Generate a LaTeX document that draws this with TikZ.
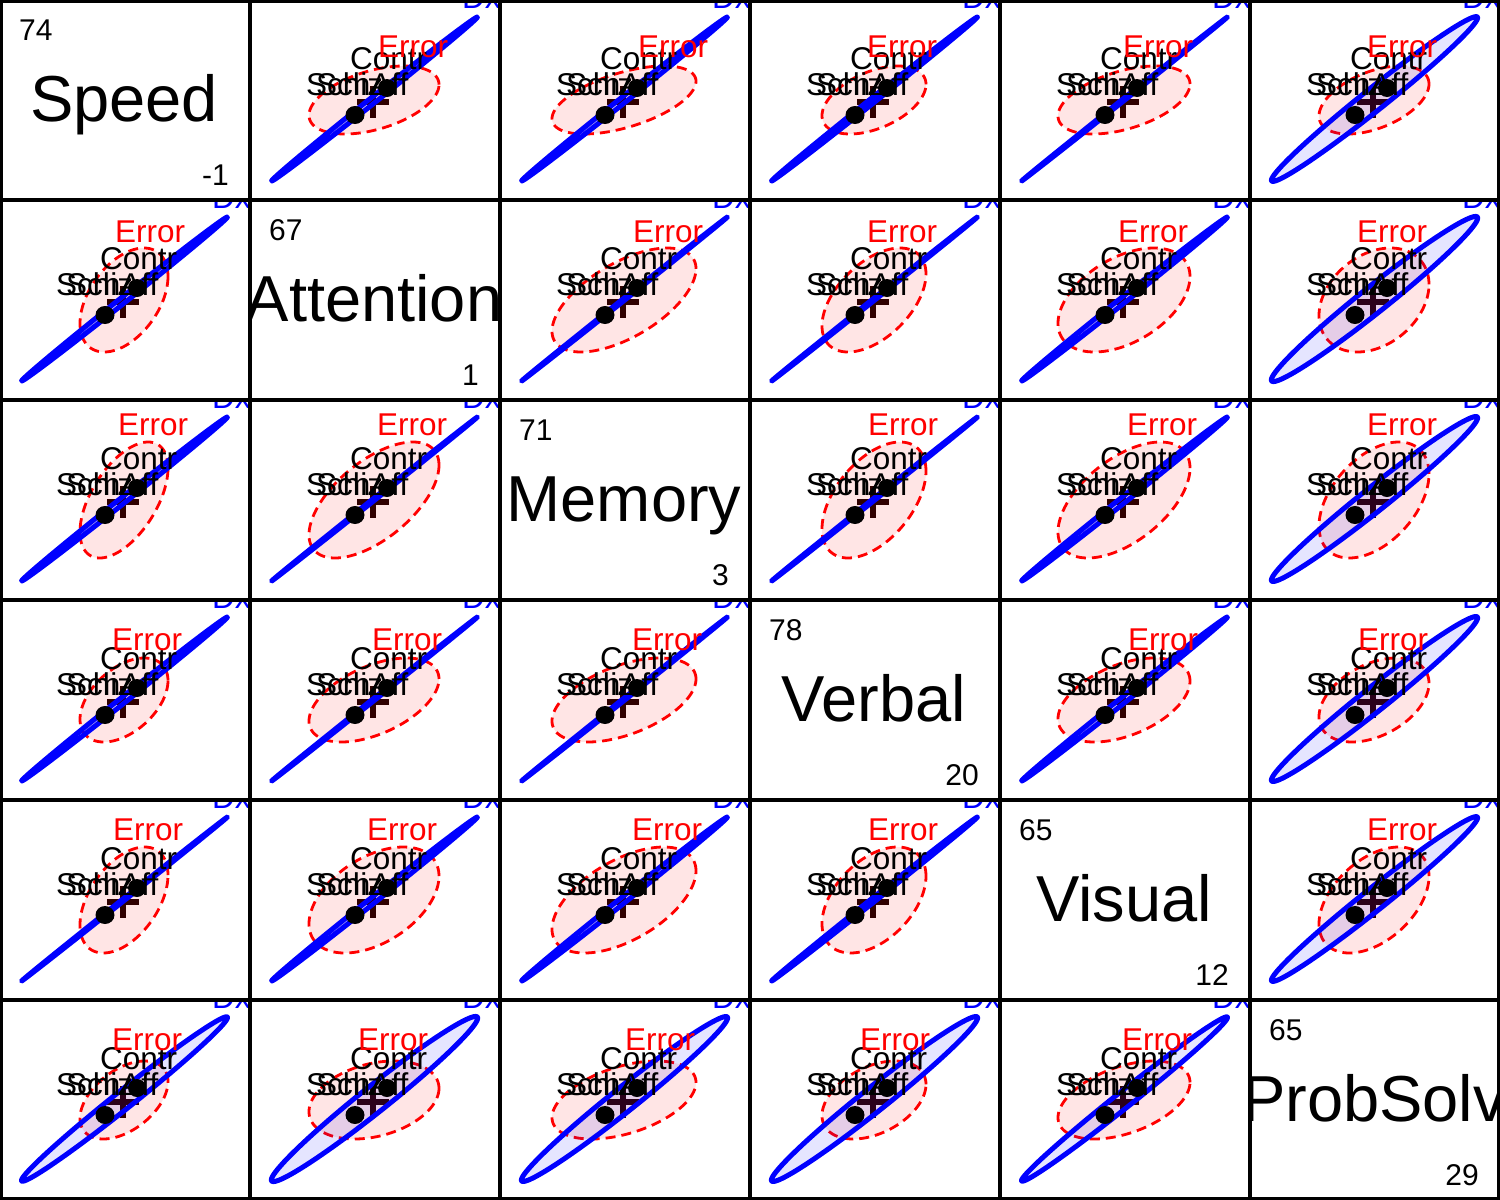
\documentclass[tikz,border=0pt]{standalone}
\usepackage{fontspec}
\setmainfont{Liberation Sans}
\tikzset{
 errfill/.style={fill=red, fill opacity=0.1, draw=red, line width=2.8pt, dash pattern=on 10pt off 6pt},
 dxell/.style={fill=blue, fill opacity=0.1, draw=blue, line width=5pt, line join=round},
 meandot/.style={fill=black},
 gmplus/.style={draw={rgb,255:red,25;green,0;blue,0}, line width=5.5pt},
 grplab/.style={inner sep=0pt, anchor=base west, font=\fontsize{31.5}{31.5}\selectfont, text=black},
 errlab/.style={grplab, text=red},
 dxlab/.style={grplab, text=blue},
 varlab/.style={inner sep=0pt, anchor=base, font=\fontsize{65}{65}\selectfont},
 numlab/.style={inner sep=0pt, font=\fontsize{30}{30}\selectfont},
 gridline/.style={draw=black, line width=3.3pt},
}
% #1 col, #2 row, #3 half width of error ellipse, #4 half height, #5 correlation,
% #6 Dx semi-minor, #7 Error label x, #8 Error label baseline
\newcommand\hecell[8]{%
 \begin{scope}[shift={({(#1-1)*250},{(#2-1)*200})}]
 \pgfmathsetmacro\hes{sqrt(1-(#5)*(#5))}
 \begin{scope}
 \clip (0,0) rectangle (250,200);
 \draw[gmplus] (107,102) -- (139,102) (123,86) -- (123,118);
 \path[errfill] plot[domain=0:360, samples=121] ({124+#3*cos(\x)}, {100-#4*(#5*cos(\x)+\hes*sin(\x))}) -- cycle;
 \path[dxell] plot[domain=0:360, samples=181] ({124.5+131.5*0.782*cos(\x)+#6*0.623*sin(\x)}, {99-131.5*0.623*cos(\x)+#6*0.782*sin(\x)}) -- cycle;
 \fill[meandot] (105,115) circle [x radius=9.5, y radius=9];
 \fill[meandot] (137,88) circle [radius=9];
 \node[grplab] (schiz-#2-#1) at (56,95) {Schiz};
 \node[grplab] (schaff-#2-#1) at (66,95) {SchAff};
 \node[grplab] (contr-#2-#1) at (100,69) {Contr};
 \node[errlab] (err-#2-#1) at (#7,#8) {Error};
 \node[dxlab] (dx-#2-#1) at (212,8) {Dx};
 \end{scope}
 \end{scope}}
\newcommand\hediag[4]{%
 \begin{scope}[shift={({(#1-1)*250},{(#1-1)*200})}]
 \begin{scope}
 \clip (0,0) rectangle (250,200);
 \node[varlab] (var-#1) at (124,121) {#2};
 \node[numlab, anchor=base west] (top-#1) at (19,40) {#3};
 \node[numlab, anchor=base east] (bot-#1) at (229,185) {#4};
 \end{scope}
 \end{scope}}
\begin{document}
\begin{tikzpicture}[x=1pt, y=-1pt]
\useasboundingbox (0,0) rectangle (1500,1200);
\fill[white] (0,0) rectangle (1500,1200);
\hediag{1}{Speed}{74}{-1}
\hediag{2}{Attention}{67}{1}
\hediag{3}{Memory}{71}{3}
\hediag{4}{Verbal}{78}{20}
\hediag{5}{Visual}{65}{12}
\hediag{6}{ProbSolv}{65}{29}
% row 1
\hecell{2}{1}{65}{34}{0.45}{3}{128}{57}
\hecell{3}{1}{72}{34}{0.55}{3}{138}{57}
\hecell{4}{1}{52}{34}{0.46}{2.5}{117}{57}
\hecell{5}{1}{66}{34}{0.47}{1}{123}{57}
\hecell{6}{1}{55}{34}{0.47}{11}{117}{57}
% row 2
\hecell{1}{2}{44}{52}{0.45}{3}{115}{42}
\hecell{3}{2}{72}{52}{0.6}{1}{133}{42}
\hecell{4}{2}{52}{52}{0.5}{1}{117}{42}
\hecell{5}{2}{66}{52}{0.45}{3}{118}{42}
\hecell{6}{2}{55}{52}{0.3}{13}{107}{42}
% row 3
\hecell{1}{3}{44}{58}{0.55}{3}{118}{35}
\hecell{2}{3}{65}{58}{0.6}{1}{127}{35}
\hecell{4}{3}{52}{58}{0.5}{1}{118}{35}
\hecell{5}{3}{66}{58}{0.55}{3}{127}{35}
\hecell{6}{3}{55}{58}{0.45}{12}{117}{35}
% row 4
\hecell{1}{4}{44}{42}{0.46}{3}{112}{50}
\hecell{2}{4}{65}{42}{0.5}{1}{122}{50}
\hecell{3}{4}{72}{42}{0.5}{1}{132}{50}
\hecell{5}{4}{66}{42}{0.45}{3}{128}{50}
\hecell{6}{4}{55}{42}{0.4}{12}{108}{50}
% row 5
\hecell{1}{5}{44}{53}{0.47}{1}{113}{40}
\hecell{2}{5}{65}{53}{0.45}{3}{117}{40}
\hecell{3}{5}{72}{53}{0.55}{3}{132}{40}
\hecell{4}{5}{52}{53}{0.45}{2}{118}{40}
\hecell{6}{5}{55}{53}{0.45}{11}{117}{40}
% row 6
\hecell{1}{6}{44}{39}{0.47}{9}{112}{50}
\hecell{2}{6}{65}{39}{0.3}{13}{108}{50}
\hecell{3}{6}{72}{39}{0.45}{12}{125}{50}
\hecell{4}{6}{52}{39}{0.4}{12}{110}{50}
\hecell{5}{6}{66}{39}{0.45}{8}{122}{50}
% frame
\foreach \k in {1,...,5} {
 \draw[gridline] ({\k*250},0) -- ({\k*250},1200);
 \draw[gridline] (0,{\k*200}) -- (1500,{\k*200});
}
\draw[black, line width=2.7pt] (1.35,1.35) rectangle (1498.65,1198.65);
\end{tikzpicture}
\end{document}
